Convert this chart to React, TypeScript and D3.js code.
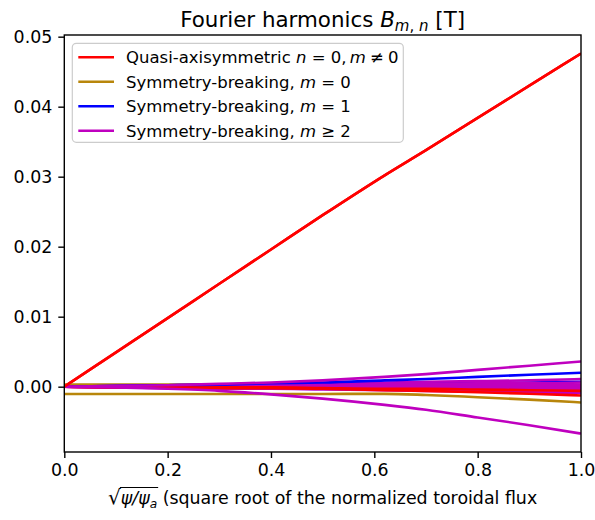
import React, { useEffect, useRef } from 'react';
import * as d3 from 'd3';

// ---- data ----
const xs = [0, 0.1, 0.2, 0.3, 0.4, 0.5, 0.62, 0.7, 0.8, 0.9, 1.0];

// Quasi-axisymmetric n=0, m!=0
const qaMain = [0, 0.0049, 0.0098, 0.0147, 0.0196, 0.0245, 0.0302, 0.0338, 0.0384, 0.043, 0.0476];
const qaSmall = [0, -0.0001, -0.0001, -0.0002, -0.0002, -0.0003, -0.0005, -0.0006, -0.0008, -0.001, -0.00125];
const qaSmall2 = [0, 0, 0, -0.0001, -0.0001, -0.0002, -0.0003, -0.0003, -0.0004, -0.0005, -0.0006];

// Symmetry-breaking m=0
const m0a = [-0.00105, -0.00105, -0.00105, -0.00105, -0.00105, -0.00104, -0.00102, -0.00118, -0.0015, -0.00185, -0.00225];
const m0b = [0.0003, 0.0003, 0.0003, 0.0003, 0.0002, 0.0002, 0.0001, 0.0001, 0, -0.0001, -0.0002];

// Symmetry-breaking m=1
const m1a = [0, 0.0001, 0.0002, 0.0003, 0.0005, 0.0006, 0.0009, 0.0011, 0.0014, 0.0017, 0.002];
const m1b = [0, 0.0001, 0.0001, 0.0002, 0.0003, 0.0003, 0.0004, 0.0005, 0.0005, 0.0006, 0.0007];

// Symmetry-breaking m>=2
const m2top = [0, 0.0001, 0.0002, 0.0004, 0.0006, 0.0009, 0.0014, 0.0018, 0.0024, 0.003, 0.0036];
const m2bot = [0, -0.0001, -0.0003, -0.0006, -0.0011, -0.0017, -0.0026, -0.0033, -0.0044, -0.0055, -0.0067];
const m2c = [0, 0.0001, 0.0002, 0.0003, 0.0004, 0.0005, 0.0006, 0.0007, 0.0008, 0.0009, 0.0011];
const m2d = [0, 0.0001, 0.0001, 0.0002, 0.0002, 0.0003, 0.0004, 0.0004, 0.0005, 0.0005, 0.0006];
const m2e = [0, 0, 0.0001, 0.0001, 0.0001, 0.0002, 0.0002, 0.0002, 0.0002, 0.0003, 0.0003];
const m2f = [0, 0, -0.0001, -0.0001, -0.0001, -0.0001, -0.0001, 0, 0, 0, 0];
const m2g = [0, -0.0001, -0.0001, -0.0001, -0.0002, -0.0002, -0.0002, -0.0003, -0.0003, -0.0003, -0.0003];
const m2h = [0, -0.0001, -0.0001, -0.0002, -0.0002, -0.0003, -0.0004, -0.0004, -0.0005, -0.0005, -0.0006];
const m2i = [0, -0.0001, -0.0002, -0.0003, -0.0003, -0.0004, -0.0005, -0.0006, -0.0007, -0.0008, -0.0009];

const xTicks = [0, 0.2, 0.4, 0.6, 0.8, 1.0];
const yTicks = [0, 0.01, 0.02, 0.03, 0.04, 0.05];
const xDomain = [0, 1];
const yDomain = [-0.00933, 0.05024];

const RED = '#ff0000';
const GOLD = '#b8860b';
const BLUE = '#0000ff';
const MAG = '#bf00bf';

const W = 595, H = 520;
const L = 64.3, R = 581, T = 35, B = 452;
const FONT = 'DejaVu Sans';

export default function App() {
  const ref = useRef<SVGSVGElement>(null);

  useEffect(() => {
    const svg = d3.select(ref.current);
    svg.selectAll('*').remove();

    const x = d3.scaleLinear().domain(xDomain).range([L, R]);
    const y = d3.scaleLinear().domain(yDomain).range([B, T]);

    svg.append('rect').attr('width', W).attr('height', H).attr('fill', '#fff');

    svg.append('defs').append('clipPath').attr('id', 'clipax')
      .append('rect').attr('x', L).attr('y', T).attr('width', R - L).attr('height', B - T);

    const series = [
      { v: qaMain, c: RED },
      { v: m0b, c: GOLD },
      { v: m1b, c: BLUE },
      { v: m2c, c: MAG }, { v: m2d, c: MAG }, { v: m2e, c: MAG }, { v: m2f, c: MAG },
      { v: m2g, c: MAG }, { v: m2h, c: MAG }, { v: m2i, c: MAG },
      { v: qaSmall2, c: RED },
      { v: m1a, c: BLUE },
      { v: m0a, c: GOLD },
      { v: qaSmall, c: RED },
      { v: m2top, c: MAG }, { v: m2bot, c: MAG },
    ];

    const line = d3.line<number>()
      .x((_, i) => x(xs[i]))
      .y((d) => y(d))
      .curve(d3.curveMonotoneX);

    const lg = svg.append('g').attr('clip-path', 'url(#clipax)');
    series.forEach((s) => {
      lg.append('path').attr('d', line(s.v) as string)
        .attr('fill', 'none').attr('stroke', s.c).attr('stroke-width', 2.6)
        .attr('stroke-linejoin', 'round');
    });
    lg.append('path').attr('d', line(qaMain) as string)
      .attr('fill', 'none').attr('stroke', RED).attr('stroke-width', 2.6);

    // axes
    const xa = svg.append('g').attr('transform', `translate(0,${B})`)
      .call(d3.axisBottom(x).tickValues(xTicks).tickFormat(d3.format('.1f')).tickSize(6).tickPadding(6).tickSizeOuter(0));
    const ya = svg.append('g').attr('transform', `translate(${L},0)`)
      .call(d3.axisLeft(y).tickValues(yTicks).tickFormat(d3.format('.2f')).tickSize(6).tickPadding(6).tickSizeOuter(0));
    [xa, ya].forEach((a) => {
      a.select('.domain').remove();
      a.selectAll('line').attr('stroke', '#000').attr('stroke-width', 1.4);
      a.selectAll('text').attr('font-family', FONT).attr('font-size', 17.4).attr('fill', '#000');
    });

    svg.append('rect').attr('x', L).attr('y', T).attr('width', R - L).attr('height', B - T)
      .attr('fill', 'none').attr('stroke', '#000').attr('stroke-width', 1.4);

    // title
    const title = svg.append('text').attr('x', (L + R) / 2).attr('y', 27)
      .attr('text-anchor', 'middle').attr('font-family', FONT).attr('font-size', 21.4).attr('fill', '#000')
      .style('white-space', 'pre');
    title.append('tspan').text('Fourier harmonics ');
    title.append('tspan').attr('font-style', 'italic').text('B');
    title.append('tspan').attr('font-size', 15).attr('dy', 4).attr('font-style', 'italic').text('m');
    title.append('tspan').attr('font-size', 15).text(', ');
    title.append('tspan').attr('font-size', 15).attr('font-style', 'italic').text('n');
    title.append('tspan').attr('dy', -4).text(' [T]');

    // legend
    const leg = svg.append('g');
    leg.append('rect').attr('x', 72.3).attr('y', 43.3).attr('width', 331).attr('height', 99)
      .attr('rx', 4).attr('fill', '#fff').attr('fill-opacity', 0.8)
      .attr('stroke', '#cccccc').attr('stroke-width', 1.2);
    const legItems = [
      { c: RED, parts: [['Quasi-axisymmetric ', 0], ['n', 1], [' = 0,\u2009', 0], ['m', 1], ['\u2005≠\u20050', 0]] },
      { c: GOLD, parts: [['Symmetry-breaking, ', 0], ['m', 1], [' = 0', 0]] },
      { c: BLUE, parts: [['Symmetry-breaking, ', 0], ['m', 1], [' = 1', 0]] },
      { c: MAG, parts: [['Symmetry-breaking, ', 0], ['m', 1], [' ≥ 2', 0]] },
    ];
    legItems.forEach((it, i) => {
      const yy = 57.3 + i * 24.5;
      leg.append('line').attr('x1', 78.3).attr('x2', 114).attr('y1', yy).attr('y2', yy)
        .attr('stroke', it.c).attr('stroke-width', 2.6);
      const t = leg.append('text').attr('x', 126).attr('y', yy).attr('dy', '0.36em')
        .attr('font-family', FONT).attr('font-size', 16.5).attr('fill', '#000')
        .style('white-space', 'pre');
      it.parts.forEach(([s, it2]) => {
        const sp = t.append('tspan').text(s as string);
        if (it2) sp.attr('font-style', 'italic');
      });
    });

    // x label
    const xl = svg.append('g');
    const base = 504;
    let cx = 0;
    const pieces: { t: string; it?: boolean; sub?: boolean; fs: number }[] = [
      { t: '√', fs: 20 },
      { t: 'ψ/ψ', it: true, fs: 17.4 },
      { t: 'a', it: true, sub: true, fs: 12.2 },
      { t: ' (square root of the normalized toroidal flux', fs: 17.4 },
    ];
    let olStart = 0, olEnd = 0;
    pieces.forEach((p, i) => {
      const te = xl.append('text').attr('x', cx).attr('y', base + (p.sub ? 3.5 : 0))
        .attr('font-family', FONT).attr('font-size', p.fs).attr('fill', '#000')
        .attr('font-style', p.it ? 'italic' : 'normal')
        .style('white-space', 'pre').text(p.t);
      const w = (te.node() as SVGTextElement).getComputedTextLength();
      if (i === 1) olStart = cx;
      cx += w;
      if (i === 2) { olEnd = cx + 1; }
    });
    xl.append('line').attr('x1', olStart - 1).attr('x2', olEnd).attr('y1', base - 16.5).attr('y2', base - 16.5)
      .attr('stroke', '#000').attr('stroke-width', 1.2);
    xl.attr('transform', `translate(${(L + R) / 2 - cx / 2},0)`);
  }, []);

  return (
    <svg ref={ref} width={W} height={H} style={{ position: 'absolute', left: 0, top: 0 }} />
  );
}
